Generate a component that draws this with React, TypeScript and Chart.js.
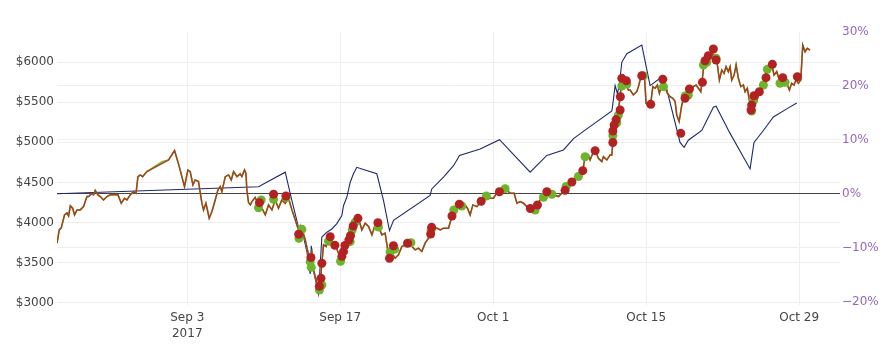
import React, { useEffect, useRef } from 'react';
import { Chart, registerables } from 'chart.js';

Chart.register(...registerables);

// x values are days since 2017-08-22 00:00
const xTickDays = [12, 26, 40, 54, 68];
const xTickLabels: (string | string[])[] = [['Sep 3', '2017'], 'Sep 17', 'Oct 1', 'Oct 15', 'Oct 29'];
const priceTicks = [3000, 3500, 4000, 4500, 5000, 5500, 6000];
const pctTicks = [-20, -10, 0, 10, 20, 30];

const priceDays = [
  0.08, 0.29, 0.47, 0.77, 0.99, 1.14, 1.3, 1.51, 1.69, 1.91, 2.21, 2.51, 2.82, 2.97, 3.22, 3.43, 3.58, 3.83, 4.04, 4.34,
  4.65, 4.96, 5.26, 5.66, 5.96, 6.26, 6.48, 6.78, 7.09, 7.31, 7.49, 7.7, 7.91, 8.31, 10.29, 10.84, 11.27, 11.75, 12.06, 12.27,
  12.52, 12.73, 13.03, 13.34, 13.49, 13.71, 14.01, 14.26, 14.56, 14.81, 15.02, 15.17, 15.48, 15.78, 16.03, 16.24, 16.55, 16.85, 17.0, 17.24,
  17.37, 17.46, 17.61, 17.77, 17.92, 18.22, 18.52, 18.83, 19.14, 19.44, 19.75, 20.05, 20.35, 20.66, 20.97, 21.27, 21.58, 21.88, 22.18, 22.49,
  22.8, 23.1, 23.25, 23.41, 23.55, 23.87, 24.01, 24.17, 24.32, 24.47, 24.72, 24.84, 25.08, 25.33, 25.54, 25.84, 26.0, 26.3, 26.61, 26.91,
  27.16, 27.37, 27.67, 27.98, 28.29, 28.59, 28.9, 29.2, 29.5, 29.81, 30.11, 30.42, 30.73, 31.03, 31.33, 31.64, 31.94, 32.25, 32.56, 32.86,
  33.16, 33.47, 33.77, 34.08, 34.23, 34.53, 34.84, 35.15, 35.45, 35.91, 36.22, 36.43, 36.82, 37.13, 37.43, 37.64, 37.89, 38.14, 38.51, 38.87,
  39.11, 39.42, 39.72, 40.02, 40.33, 40.64, 40.94, 41.25, 41.55, 41.92, 42.17, 42.47, 42.77, 43.08, 43.38, 43.69, 44.0, 44.3, 44.6, 44.91,
  45.21, 45.51, 45.97, 46.28, 46.58, 46.89, 47.2, 47.5, 47.8, 48.11, 48.26, 48.41, 48.72, 48.87, 49.12, 49.33, 49.63, 49.94, 50.09, 50.4,
  50.7, 50.86, 50.95, 51.0, 51.16, 51.31, 51.46, 51.62, 51.77, 51.92, 52.07, 52.37, 52.53, 52.83, 53.14, 53.29, 53.45, 53.6, 53.84, 53.99,
  54.21, 54.42, 54.61, 54.82, 55.03, 55.21, 55.43, 55.58, 55.73, 55.94, 56.19, 56.44, 56.65, 56.8, 57.02, 57.26, 57.47, 57.72, 58.02, 58.32,
  58.57, 58.78, 59.0, 59.18, 59.3, 59.55, 59.79, 60.01, 60.22, 60.46, 60.7, 60.92, 61.13, 61.31, 61.52, 61.68, 61.83, 62.05, 62.23, 62.44,
  62.66, 62.9, 63.05, 63.26, 63.44, 63.66, 63.87, 64.12, 64.36, 64.58, 64.79, 65.04, 65.27, 65.49, 65.7, 65.95, 66.19, 66.41, 66.62, 66.87,
  67.11, 67.32, 67.53, 67.72, 67.93, 68.15, 68.33, 68.54, 68.75, 69.0,
];
const priceValues = [
  3745, 3910, 3935, 4097, 4122, 4084, 4209, 4180, 4097, 4159, 4159, 4200, 4325, 4325, 4358, 4346, 4400, 4346, 4325, 4283,
  4325, 4346, 4346, 4346, 4242, 4304, 4283, 4346, 4387, 4367, 4573, 4594, 4573, 4636, 4781, 4897, 4698, 4449, 4656, 4636,
  4470, 4532, 4511, 4242, 4159, 4242, 4055, 4138, 4283, 4408, 4449, 4387, 4573, 4594, 4532, 4636, 4573, 4607, 4573, 4656,
  4615, 4400, 4250, 4221, 4262, 4315, 4221, 4180, 4097, 4221, 4159, 4283, 4180, 4283, 4242, 4304, 4159, 4035, 3910, 3931,
  3786, 3599, 3496, 3620, 3413, 3247, 3164, 3247, 3496, 3724, 3703, 3786, 3807, 3703, 3724, 3620, 3579, 3683, 3786, 3869,
  3973, 4035, 4055, 3910, 3993, 3952, 3848, 3973, 3952, 3848, 3869, 3599, 3620, 3558, 3599, 3703, 3724, 3745, 3703, 3662,
  3683, 3641, 3745, 3807, 3931, 3910, 3931, 3910, 3931, 3931, 4076, 4159, 4242, 4200, 4221, 4180, 4097, 4221, 4200, 4262,
  4325, 4346, 4304, 4304, 4367, 4387, 4429, 4408, 4367, 4367, 4242, 4262, 4242, 4200, 4180, 4159, 4221, 4283, 4325, 4387,
  4367, 4346, 4325, 4367, 4408, 4449, 4511, 4553, 4573, 4636, 4698, 4822, 4843, 4781, 4864, 4905, 4802, 4760, 4822, 4781,
  4843, 4843, 5009, 5092, 5216, 5300, 5403, 5568, 5790, 5735, 5755, 5652, 5652, 5590, 5631, 5693, 5776, 5838, 5838, 5486,
  5465, 5486, 5693, 5673, 5714, 5610, 5714, 5776, 5693, 5610, 5569, 5548, 5507, 5341, 5258, 5465, 5569, 5590, 5652, 5693,
  5714, 5673, 5631, 5838, 5983, 6025, 6087, 6149, 6046, 6025, 5776, 5900, 5859, 5942, 5880, 5942, 5776, 5838, 5963, 5797,
  5693, 5714, 5631, 5673, 5527, 5424, 5465, 5507, 5631, 5714, 5735, 5921, 5921, 5983, 5838, 5880, 5776, 5817, 5735, 5735,
  5652, 5735, 5714, 5776, 5735, 5776, 6211, 6128, 6170, 6149,
];

// where the green price line departs from the brown one
const greenLineExtraDays = [9.68];
const greenLineExtraValues = [4760];

const redDays = [
  18.61, 19.9, 21.03, 22.2, 23.32, 24.32, 24.24, 24.09, 25.08, 25.51, 26.15, 26.3, 26.43, 26.79, 26.94, 27.19, 27.62, 29.45, 30.51, 30.87,
  32.16, 34.28, 34.37, 36.23, 36.9, 38.9, 40.57, 43.4, 44.05, 44.91, 46.58, 47.2, 48.2, 49.33, 50.95, 50.95, 51.07, 51.25, 51.62, 51.64,
  51.77, 52.19, 53.6, 54.42, 55.52, 57.17, 57.56, 57.96, 59.15, 59.39, 59.69, 60.15, 60.4, 63.6, 63.66, 63.87, 64.36, 64.97, 65.55, 66.5,
  67.84,
];
const redValues = [
  4249, 4353, 4332, 3855, 3566, 3494, 3307, 3208, 3825, 3718, 3581, 3639, 3716, 3784, 3837, 3959, 4054, 4000, 3556, 3713,
  3743, 3859, 3942, 4083, 4230, 4266, 4385, 4176, 4220, 4385, 4402, 4506, 4647, 4896, 4998, 5141, 5216, 5283, 5402, 5568,
  5797, 5766, 5829, 5473, 5785, 5112, 5548, 5664, 5747, 6016, 6078, 6162, 6025, 5402, 5465, 5580, 5630, 5805, 5971, 5805,
  5817,
];

const greenDays = [
  18.52, 18.77, 19.9, 21.06, 22.22, 22.49, 23.25, 23.35, 24.1, 24.32, 24.93, 26.03, 26.91, 27.1, 27.37, 29.5, 30.57, 30.98, 32.47, 34.32,
  36.4, 37.13, 39.38, 41.09, 43.84, 44.6, 45.37, 46.68, 47.8, 48.41, 50.95, 51.31, 51.46, 51.77, 52.23, 53.75, 55.58, 57.56, 57.86, 59.24,
  59.55, 60.4, 63.66, 63.81, 64.73, 65.09, 66.25, 66.71,
];
const greenValues = [
  4186, 4282, 4291, 4311, 3805, 3917, 3514, 3444, 3162, 3224, 3768, 3519, 3763, 3909, 4006, 3946, 3635, 3670, 3751, 3909,
  4158, 4207, 4332, 4423, 4158, 4316, 4354, 4451, 4575, 4821, 5085, 5244, 5340, 5701, 5726, 5829, 5693, 5577, 5589, 5963,
  5996, 6046, 5390, 5515, 5714, 5909, 5735, 5747,
];

const changeDays = [
  0.08, 18.52, 20.97, 21.43, 22.18, 22.27, 22.34, 22.65, 22.96, 23.25, 23.35, 23.55, 24.01, 24.32, 24.78, 25.24, 25.69, 26.15, 26.3, 26.61,
  26.91, 27.21, 27.52, 27.98, 29.35, 29.96, 30.51, 30.88, 34.23, 34.38, 35.45, 36.37, 36.92, 38.81, 40.58, 43.38, 44.91, 46.43, 47.35, 48.57,
  50.86, 50.95, 51.16, 51.37, 51.55, 51.77, 52.23, 53.6, 54.36, 55.43, 55.64, 57.1, 57.47, 57.86, 59.09, 60.15, 60.4, 61.62, 63.51, 63.87,
  64.73, 65.64, 66.87, 67.78,
];
const changePct = [
  0, 1.3, 4.0, 0, -6.2, -6.8, -5.9, -8.0, -10.8, -14.8, -9.6, -14.2, -18.5, -8.0, -7.1, -6.5, -5.5, -4.0, -2.2, -0.6,
  2.1, 3.7, 4.9, 4.6, 3.7, -1.2, -6.8, -4.9, -0.3, 0.9, 3.1, 5.2, 7.1, 8.3, 10.0, 4.0, 7.1, 8.1, 10.2, 12.0,
  15.3, 16.6, 20.0, 18.5, 20.3, 24.3, 25.9, 27.5, 20.0, 21.6, 21.3, 9.5, 8.6, 9.9, 11.7, 16.0, 16.2, 11.4, 4.6, 9.5,
  11.7, 14.2, 15.7, 16.8,
];

const pts = (xs: number[], ys: number[]) => xs.map((x, i) => ({ x, y: ys[i] }));

export default function App() {
  const ref = useRef<HTMLCanvasElement | null>(null);

  useEffect(() => {
    if (!ref.current) return;
    const greenLine = pts(priceDays, priceValues)
      .concat(pts(greenLineExtraDays, greenLineExtraValues))
      .sort((a, b) => a.x - b.x);
    const font = { family: 'DejaVu Sans', size: 12 };
    const chart = new Chart(ref.current, {
      type: 'line',
      data: {
        datasets: [
          {
            type: 'scatter',
            data: pts(redDays, redValues),
            yAxisID: 'y',
            pointRadius: 4.5,
            pointBackgroundColor: '#b22222',
            pointBorderWidth: 0,
            borderWidth: 0,
            showLine: false,
            order: 0,
          } as any,
          {
            type: 'scatter',
            data: pts(greenDays, greenValues),
            yAxisID: 'y',
            pointRadius: 4.5,
            pointBackgroundColor: '#6cb42c',
            pointBorderWidth: 0,
            borderWidth: 0,
            showLine: false,
            order: 1,
          } as any,
          {
            data: pts(priceDays, priceValues),
            yAxisID: 'y',
            borderColor: '#a0431d',
            borderWidth: 1.5,
            pointRadius: 0,
            tension: 0,
            order: 2,
          },
          {
            data: greenLine,
            yAxisID: 'y',
            borderColor: '#82bd3a',
            borderWidth: 1.5,
            pointRadius: 0,
            tension: 0,
            order: 3,
          },
          {
            data: pts(changeDays, changePct),
            yAxisID: 'y2',
            borderColor: '#1e2870',
            borderWidth: 1.1,
            pointRadius: 0,
            tension: 0,
            order: 4,
          },
        ],
      },
      options: {
        animation: false,
        responsive: false,
        maintainAspectRatio: false,
        devicePixelRatio: 1,
        layout: { padding: { top: 31.5, left: 0, right: 0, bottom: 0 } },
        plugins: { legend: { display: false }, tooltip: { enabled: false } },
        scales: {
          x: {
            type: 'linear',
            min: 0.08,
            max: 71.74,
            afterBuildTicks: (s: any) => {
              s.ticks = xTickDays.map((v) => ({ value: v }));
            },
            afterFit: (s: any) => {
              s.height = 49.5;
            },
            border: { display: false },
            grid: { color: '#eee', lineWidth: 1, drawTicks: false },
            ticks: {
              font: { ...font, lineHeight: 1.35 },
              color: '#444',
              padding: 5,
              maxRotation: 0,
              autoSkip: false,
              callback: (v: any) => {
                const i = xTickDays.indexOf(Number(v));
                return i >= 0 ? xTickLabels[i] : '';
              },
            },
          },
          y: {
            type: 'linear',
            position: 'left',
            min: 2981,
            max: 6380,
            afterBuildTicks: (s: any) => {
              s.ticks = priceTicks.map((v) => ({ value: v }));
            },
            afterFit: (s: any) => {
              s.width = 57;
            },
            border: { display: false },
            grid: { color: '#eee', lineWidth: 1, drawTicks: false },
            ticks: {
              font,
              color: '#444',
              padding: 3,
              callback: (v: any) => '$' + v,
            },
          },
          y2: {
            type: 'linear',
            position: 'right',
            min: -20.46,
            max: 30,
            afterBuildTicks: (s: any) => {
              s.ticks = pctTicks.map((v) => ({ value: v }));
            },
            afterFit: (s: any) => {
              s.width = 50;
            },
            border: { display: false },
            grid: {
              drawTicks: false,
              lineWidth: 1,
              color: (ctx: any) => {
                const v = ctx.tick ? ctx.tick.value : null;
                if (v === 0) return '#444';
                if (v === 30) return 'rgba(0,0,0,0)';
                return '#eee';
              },
            },
            ticks: {
              font,
              color: '#9467bd',
              padding: 2,
              callback: (v: any) => (Number(v) < 0 ? '\u2212' + Math.abs(Number(v)) + '%' : v + '%'),
            },
          },
        },
      },
    });
    return () => chart.destroy();
  }, []);

  return (
    <div style={{ position: 'fixed', left: 0, top: 0, width: 890, height: 354, background: '#fff' }}>
      <canvas ref={ref} width={890} height={354} style={{ display: 'block', width: 890, height: 354 }} />
    </div>
  );
}
